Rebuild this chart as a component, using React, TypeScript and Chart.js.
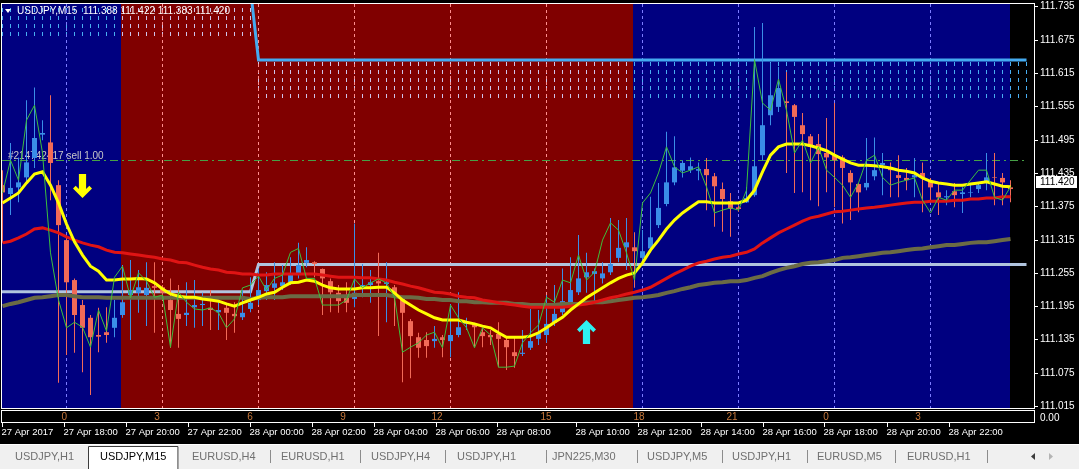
import React, { useEffect, useRef } from "react";
import { Chart, registerables } from "chart.js";

Chart.register(...registerables);

// ---------------- data (USDJPY, M15) ----------------
const openP = [
  111.414, 111.398, 111.410, 111.428, 111.463, 111.505, 111.491, 111.414, 111.315, 111.243,
  111.198, 111.175, 111.144, 111.149, 111.157, 111.180, 111.216, 111.220, 111.216, 111.232,
  111.230, 111.207, 111.182, 111.180, 111.194, 111.198, 111.193, 111.185, 111.193, 111.182,
  111.176, 111.191, 111.207, 111.223, 111.229, 111.232, 111.239, 111.252, 111.274, 111.275,
  111.263, 111.241, 111.220, 111.212, 111.209, 111.230, 111.234, 111.241, 111.236, 111.230,
  111.212, 111.169, 111.140, 111.135, 111.133, 111.140, 111.133, 111.144, 111.164, 111.162,
  111.149, 111.144, 111.146, 111.135, 111.113, 111.110, 111.121, 111.137, 111.144, 111.166,
  111.185, 111.203, 111.221, 111.248, 111.254, 111.246, 111.257, 111.283, 111.302, 111.302,
  111.283, 111.300, 111.342, 111.380, 111.419, 111.440, 111.441, 111.440, 111.443, 111.430,
  111.407, 111.385, 111.374, 111.383, 111.396, 111.468, 111.540, 111.555, 111.565, 111.558,
  111.522, 111.502, 111.488, 111.472, 111.468, 111.464, 111.436, 111.416, 111.410, 111.430,
  111.450, 111.445, 111.432, 111.427, 111.428, 111.436, 111.421, 111.401, 111.392, 111.403,
  111.398, 111.400, 111.407, 111.419, 111.428, 111.427, 111.410,
];
const highP = [
  111.441, 111.490, 111.464, 111.567, 111.590, 111.531, 111.576, 111.423, 111.324, 111.246,
  111.207, 111.180, 111.193, 111.194, 111.207, 111.270, 111.279, 111.261, 111.275, 111.275,
  111.234, 111.246, 111.234, 111.239, 111.243, 111.220, 111.225, 111.207, 111.198, 111.203,
  111.225, 111.248, 111.264, 111.257, 111.275, 111.270, 111.284, 111.310, 111.302, 111.277,
  111.264, 111.246, 111.234, 111.239, 111.345, 111.272, 111.261, 111.292, 111.275, 111.234,
  111.214, 111.173, 111.148, 111.149, 111.160, 111.144, 111.200, 111.221, 111.175, 111.166,
  111.160, 111.153, 111.167, 111.139, 111.139, 111.153, 111.191, 111.189, 111.216, 111.234,
  111.264, 111.284, 111.324, 111.292, 111.264, 111.275, 111.355, 111.351, 111.355, 111.329,
  111.333, 111.393, 111.418, 111.510, 111.502, 111.459, 111.464, 111.455, 111.463, 111.436,
  111.419, 111.400, 111.378, 111.410, 111.699, 111.706, 111.634, 111.627, 111.618, 111.560,
  111.544, 111.506, 111.506, 111.535, 111.562, 111.468, 111.441, 111.418, 111.499, 111.500,
  111.472, 111.455, 111.468, 111.445, 111.463, 111.455, 111.427, 111.419, 111.405, 111.418,
  111.410, 111.418, 111.418, 111.472, 111.472, 111.436, 111.423,
];
const lowP = [
  111.310, 111.360, 111.383, 111.419, 111.445, 111.495, 111.387, 111.058, 111.108, 111.112,
  111.077, 111.036, 111.113, 111.130, 111.140, 111.175, 111.135, 111.184, 111.160, 111.148,
  111.207, 111.121, 111.121, 111.160, 111.157, 111.160, 111.153, 111.153, 111.135, 111.148,
  111.171, 111.185, 111.198, 111.207, 111.207, 111.225, 111.234, 111.246, 111.266, 111.248,
  111.180, 111.185, 111.184, 111.185, 111.194, 111.212, 111.202, 111.142, 111.167, 111.160,
  111.059, 111.066, 111.103, 111.103, 111.121, 111.104, 111.104, 111.140, 111.153, 111.122,
  111.122, 111.126, 111.086, 111.081, 111.085, 111.106, 111.117, 111.126, 111.130, 111.160,
  111.180, 111.198, 111.216, 111.220, 111.202, 111.237, 111.252, 111.275, 111.261, 111.229,
  111.275, 111.293, 111.337, 111.376, 111.414, 111.428, 111.436, 111.423, 111.369, 111.339,
  111.330, 111.321, 111.366, 111.382, 111.393, 111.459, 111.522, 111.546, 111.436, 111.400,
  111.401, 111.387, 111.376, 111.401, 111.374, 111.345, 111.351, 111.365, 111.405, 111.423,
  111.396, 111.392, 111.392, 111.405, 111.392, 111.365, 111.387, 111.360, 111.378, 111.374,
  111.364, 111.392, 111.400, 111.405, 111.378, 111.378, 111.383,
];
const closeP = [
  111.401, 111.409, 111.419, 111.455, 111.499, 111.508, 111.454, 111.342, 111.239, 111.180,
  111.157, 111.140, 111.141, 111.144, 111.175, 111.203, 111.225, 111.230, 111.229, 111.229,
  111.220, 111.189, 111.173, 111.184, 111.198, 111.200, 111.189, 111.189, 111.184, 111.178,
  111.184, 111.202, 111.225, 111.234, 111.237, 111.239, 111.252, 111.270, 111.279, 111.272,
  111.246, 111.221, 111.205, 111.202, 111.220, 111.234, 111.239, 111.237, 111.239, 111.216,
  111.184, 111.142, 111.121, 111.124, 111.137, 111.135, 111.144, 111.158, 111.167, 111.158,
  111.142, 111.140, 111.137, 111.122, 111.106, 111.112, 111.133, 111.148, 111.164, 111.182,
  111.205, 111.225, 111.246, 111.257, 111.259, 111.255, 111.272, 111.301, 111.311, 111.295,
  111.295, 111.320, 111.373, 111.419, 111.446, 111.454, 111.448, 111.443, 111.432, 111.412,
  111.389, 111.371, 111.371, 111.391, 111.448, 111.522, 111.576, 111.589, 111.562, 111.537,
  111.506, 111.483, 111.470, 111.464, 111.459, 111.445, 111.419, 111.401, 111.418, 111.441,
  111.454, 111.441, 111.427, 111.423, 111.432, 111.428, 111.410, 111.392, 111.394, 111.396,
  111.401, 111.401, 111.414, 111.428, 111.427, 111.419, 111.407,
];
// thin green line
const fastLine = [
  111.400, 111.459, 111.423, 111.531, 111.558, 111.472, 111.292, 111.207, 111.157, 111.167,
  111.158, 111.122, 111.189, 111.151, 111.248, 111.268, 111.211, 111.256, 111.241, 111.212,
  111.216, 111.122, 111.221, 111.203, 111.191, 111.189, 111.193, 111.184, 111.157, 111.173,
  111.229, 111.234, 111.250, 111.225, 111.246, 111.252, 111.293, 111.300, 111.246, 111.246,
  111.198, 111.198, 111.198, 111.207, 111.245, 111.229, 111.238, 111.245, 111.238, 111.212,
  111.113, 111.122, 111.130, 111.144, 111.149, 111.121, 111.198, 111.175, 111.157, 111.121,
  111.157, 111.144, 111.086, 111.086, 111.088, 111.130, 111.148, 111.162, 111.212, 111.203,
  111.243, 111.238, 111.288, 111.243, 111.257, 111.315, 111.346, 111.333, 111.292, 111.243,
  111.382, 111.400, 111.436, 111.483, 111.447, 111.436, 111.441, 111.447, 111.411, 111.364,
  111.369, 111.373, 111.369, 111.405, 111.640, 111.562, 111.549, 111.605, 111.549, 111.472,
  111.495, 111.454, 111.483, 111.441, 111.428, 111.414, 111.392, 111.418, 111.459, 111.468,
  111.428, 111.414, 111.419, 111.423, 111.427, 111.387, 111.364, 111.392, 111.387, 111.405,
  111.405, 111.423, 111.441, 111.441, 111.392, 111.387, 111.411,
];
// yellow moving average
const maYellow = [
  111.382, 111.391, 111.400, 111.418, 111.434, 111.438, 111.414, 111.382, 111.344, 111.312,
  111.288, 111.268, 111.259, 111.243, 111.243, 111.245, 111.245, 111.246, 111.245, 111.238,
  111.227, 111.218, 111.214, 111.212, 111.212, 111.209, 111.207, 111.205, 111.200, 111.196,
  111.202, 111.207, 111.212, 111.218, 111.221, 111.230, 111.238, 111.239, 111.243, 111.241,
  111.234, 111.229, 111.227, 111.227, 111.227, 111.229, 111.229, 111.230, 111.230, 111.220,
  111.207, 111.198, 111.189, 111.182, 111.175, 111.171, 111.171, 111.171, 111.167, 111.164,
  111.160, 111.157, 111.148, 111.140, 111.140, 111.140, 111.142, 111.148, 111.157, 111.167,
  111.176, 111.189, 111.200, 111.211, 111.220, 111.229, 111.238, 111.246, 111.252, 111.256,
  111.274, 111.297, 111.315, 111.335, 111.351, 111.364, 111.374, 111.384, 111.384, 111.382,
  111.382, 111.382, 111.382, 111.387, 111.405, 111.438, 111.468, 111.483, 111.488, 111.488,
  111.488, 111.485, 111.481, 111.476, 111.468, 111.461, 111.454, 111.450, 111.450, 111.449,
  111.447, 111.445, 111.441, 111.439, 111.436, 111.427, 111.421, 111.418, 111.416, 111.414,
  111.414, 111.416, 111.418, 111.420, 111.416, 111.412, 111.411,
];
// red moving average
const maRed = [
  111.310, 111.313, 111.319, 111.326, 111.335, 111.337, 111.333, 111.328, 111.321, 111.315,
  111.310, 111.306, 111.303, 111.297, 111.293, 111.292, 111.290, 111.288, 111.286, 111.284,
  111.281, 111.279, 111.275, 111.274, 111.270, 111.266, 111.263, 111.261, 111.257, 111.256,
  111.254, 111.254, 111.252, 111.252, 111.254, 111.254, 111.254, 111.254, 111.254, 111.254,
  111.252, 111.250, 111.248, 111.248, 111.248, 111.247, 111.247, 111.245, 111.243, 111.239,
  111.236, 111.232, 111.229, 111.225, 111.221, 111.220, 111.218, 111.214, 111.212, 111.211,
  111.207, 111.205, 111.202, 111.200, 111.198, 111.196, 111.194, 111.194, 111.194, 111.194,
  111.194, 111.196, 111.198, 111.200, 111.203, 111.207, 111.211, 111.214, 111.218, 111.221,
  111.225, 111.230, 111.238, 111.246, 111.254, 111.261, 111.268, 111.274, 111.277, 111.281,
  111.284, 111.286, 111.290, 111.293, 111.299, 111.310, 111.319, 111.328, 111.335, 111.342,
  111.349, 111.355, 111.358, 111.362, 111.366, 111.367, 111.369, 111.371, 111.373, 111.374,
  111.376, 111.378, 111.380, 111.382, 111.383, 111.383, 111.385, 111.385, 111.385, 111.387,
  111.387, 111.389, 111.389, 111.391, 111.391, 111.393, 111.393,
];
// olive (slow) moving average
const maOlive = [
  111.196, 111.200, 111.203, 111.207, 111.211, 111.212, 111.214, 111.216, 111.216, 111.214,
  111.212, 111.212, 111.212, 111.211, 111.211, 111.211, 111.211, 111.211, 111.211, 111.211,
  111.211, 111.211, 111.211, 111.211, 111.211, 111.211, 111.211, 111.211, 111.211, 111.211,
  111.211, 111.209, 111.211, 111.212, 111.212, 111.212, 111.214, 111.214, 111.214, 111.214,
  111.214, 111.214, 111.214, 111.214, 111.216, 111.216, 111.216, 111.216, 111.216, 111.214,
  111.212, 111.212, 111.211, 111.209, 111.209, 111.207, 111.207, 111.205, 111.205, 111.203,
  111.203, 111.202, 111.202, 111.202, 111.200, 111.200, 111.198, 111.198, 111.198, 111.198,
  111.200, 111.200, 111.200, 111.202, 111.203, 111.203, 111.205, 111.207, 111.209, 111.211,
  111.212, 111.214, 111.216, 111.220, 111.223, 111.227, 111.230, 111.234, 111.236, 111.238,
  111.239, 111.241, 111.241, 111.243, 111.247, 111.250, 111.256, 111.261, 111.265, 111.268,
  111.272, 111.274, 111.275, 111.277, 111.279, 111.283, 111.284, 111.286, 111.288, 111.290,
  111.292, 111.293, 111.295, 111.297, 111.299, 111.300, 111.302, 111.304, 111.306, 111.306,
  111.308, 111.310, 111.311, 111.311, 111.313, 111.315, 111.317,
];

// horizontal levels (bar index, price)
const supportX = [-1, 31, 32, 128];
const supportY = [111.222, 111.222, 111.271, 111.271];
const resistX = [31, 32, 128];
const resistY = [111.766, 111.6395, 111.6395];
const tradePrice = 111.458;
const tradeEnd = 128;
const tradeLabel = "#214742417 sell 1.00";

// dotted zones
const zoneFrom = [0, 32];
const zoneTo = [31, 128];
const zoneHigh = [111.733, 111.636];
const zoneLow = [111.679, 111.567];

// trading sessions (bar index ranges)
const sessionStart = [-1, 14.8, 78.8];
const sessionEnd = [14.8, 78.8, 125.95];
const sessionIsRed = [false, true, false];

// signal arrows
const arrowBar = [10, 73];
const arrowPrice = [111.391, 111.171];
const arrowUp = [false, true];

// axes
const gridAt = [8, 20, 32, 44, 56, 68, 80, 92, 104, 116];
const priceTicks = [111.735, 111.675, 111.615, 111.555, 111.495, 111.435, 111.375, 111.315, 111.255, 111.195, 111.135, 111.075, 111.015];
const hourLabels = ["0", "3", "6", "9", "12", "15", "18", "21", "0", "3"];
const hourAt = [7.73, 19.31, 30.94, 42.56, 54.31, 67.94, 79.56, 91.19, 102.94, 114.44];
const dateLabels = [
  "27 Apr 2017", "27 Apr 18:00", "27 Apr 20:00", "27 Apr 22:00", "28 Apr 00:00", "28 Apr 02:00",
  "28 Apr 04:00", "28 Apr 06:00", "28 Apr 08:00", "28 Apr 10:00", "28 Apr 12:00", "28 Apr 14:00",
  "28 Apr 16:00", "28 Apr 18:00", "28 Apr 20:00", "28 Apr 22:00",
];
const dateAt = [0, 7.73, 15.44, 23.19, 30.94, 38.69, 46.44, 54.19, 61.9, 71.81, 79.56, 87.35, 95.1, 102.81, 110.6, 118.35];
const lastPrice = 111.42;
const headerText = "USDJPY,M15  111.388 111.422 111.383 111.420";
const tabs = ["USDJPY,H1", "USDJPY,M15", "EURUSD,H4", "EURUSD,H1", "USDJPY,H4", "USDJPY,H1", "JPN225,M30", "USDJPY,M5", "USDJPY,H1", "EURUSD,M5", "EURUSD,H1"];
const activeTab = 1;

// ---------------- styles ----------------
const W = 1079;
const H = 469;
const BULL = "#3a8ee8";
const BEAR = "#f26a58";
const BLUE_BG = "#000080";
const RED_BG = "#800000";
const FONT = "Liberation Sans, Arial, sans-serif";
const TAB_X = [15, 100, 192, 281, 371, 457, 552, 647, 732, 817, 907];
const TAB_SEP = [270, 360, 445, 546, 637, 722, 807, 895, 987];

const idx = openP.map((_, i) => i);
const upBar = idx.map((i) => closeP[i] >= openP[i]);
const candleColor = upBar.map((u) => (u ? BULL : BEAR));
const pts = (arr: number[]) => idx.map((i) => ({ x: i, y: arr[i] }));

function inRed(k: number) {
  for (let i = 0; i < sessionStart.length; i++) {
    if (k >= sessionStart[i] && k < sessionEnd[i]) return sessionIsRed[i];
  }
  return false;
}

function drawArrow(ctx: CanvasRenderingContext2D, tx: number, ty: number, up: boolean, color: string) {
  const s = up ? -1 : 1;
  const p = [
    [0, 0], [9.5, -9.5], [6.8, -12.2], [3.6, -9], [3.6, -24], [-3.6, -24], [-3.6, -9], [-6.8, -12.2], [-9.5, -9.5],
  ];
  ctx.beginPath();
  p.forEach(([dx, dy], i) => {
    const px = tx + dx;
    const py = ty + dy * s;
    if (i === 0) ctx.moveTo(px, py);
    else ctx.lineTo(px, py);
  });
  ctx.closePath();
  ctx.fillStyle = color;
  ctx.fill();
}

const decor = {
  id: "mt4decor",
  beforeDraw(chart: any) {
    const { ctx, chartArea: a } = chart;
    const xs = chart.scales.x;
    const ys = chart.scales.y;
    ctx.save();
    ctx.fillStyle = "#000";
    ctx.fillRect(0, 0, W, H);
    // session bands
    sessionStart.forEach((s, i) => {
      const x0 = Math.max(a.left, Math.round(xs.getPixelForValue(s)));
      const x1 = Math.min(a.right, Math.round(xs.getPixelForValue(sessionEnd[i])));
      ctx.fillStyle = sessionIsRed[i] ? RED_BG : BLUE_BG;
      ctx.fillRect(x0, a.top, x1 - x0, a.bottom - a.top);
    });
    // dotted zones
    ctx.lineWidth = 1;
    ctx.setLineDash([4, 4]);
    zoneFrom.forEach((f, z) => {
      const yt = Math.round(ys.getPixelForValue(zoneHigh[z]));
      const yb = Math.round(ys.getPixelForValue(zoneLow[z]));
      for (let k = f; k <= zoneTo[z]; k++) {
        const px = Math.floor(xs.getPixelForValue(k)) + 0.5;
        ctx.strokeStyle = inRed(k) ? "#cfc4ea" : "#48aef2";
        ctx.beginPath();
        ctx.moveTo(px, yt);
        ctx.lineTo(px, yb);
        ctx.stroke();
      }
    });
    // vertical grid
    ctx.setLineDash([3, 3]);
    gridAt.forEach((g) => {
      const px = Math.floor(xs.getPixelForValue(g)) + 0.5;
      ctx.strokeStyle = inRed(g) ? "#ff8e8e" : "#7c7cff";
      ctx.beginPath();
      ctx.moveTo(px, a.top);
      ctx.lineTo(px, a.bottom);
      ctx.stroke();
    });
    // trade line
    const ty = Math.floor(ys.getPixelForValue(tradePrice)) + 0.5;
    ctx.setLineDash([8, 4, 2, 4]);
    ctx.strokeStyle = "#46a046";
    ctx.beginPath();
    ctx.moveTo(a.left, ty);
    ctx.lineTo(xs.getPixelForValue(tradeEnd), ty);
    ctx.stroke();
    ctx.setLineDash([]);
    ctx.fillStyle = "#c8c8c8";
    ctx.font = "10px " + FONT;
    ctx.textAlign = "left";
    ctx.textBaseline = "alphabetic";
    ctx.fillText(tradeLabel, 8, ty - 2);
    ctx.restore();
  },
  afterDraw(chart: any) {
    const { ctx, chartArea: a } = chart;
    const xs = chart.scales.x;
    const ys = chart.scales.y;
    ctx.save();
    // arrows
    arrowBar.forEach((b, i) => {
      drawArrow(ctx, xs.getPixelForValue(b), ys.getPixelForValue(arrowPrice[i]), arrowUp[i], arrowUp[i] ? "#2ff0f0" : "#ffff00");
    });
    // header
    ctx.fillStyle = "#ffffff";
    ctx.beginPath();
    ctx.moveTo(5, 9);
    ctx.lineTo(11, 9);
    ctx.lineTo(8, 13);
    ctx.closePath();
    ctx.fill();
    ctx.font = "10px " + FONT;
    ctx.textBaseline = "middle";
    ctx.textAlign = "left";
    ctx.fillText(headerText, 17, 11);
    // main frame
    ctx.strokeStyle = "#ffffff";
    ctx.lineWidth = 1;
    ctx.strokeRect(1.5, 3.5, a.right - 1, a.bottom - 3);
    // price axis
    ctx.font = "10px " + FONT;
    priceTicks.forEach((p) => {
      const py = Math.floor(ys.getPixelForValue(p)) + 0.5;
      ctx.beginPath();
      ctx.moveTo(a.right + 1, py);
      ctx.lineTo(a.right + 4, py);
      ctx.stroke();
      ctx.fillStyle = "#ffffff";
      ctx.fillText(p.toFixed(3), a.right + 6, py);
    });
    // current price box
    const cy = Math.round(ys.getPixelForValue(lastPrice));
    ctx.fillStyle = "#ffffff";
    ctx.fillRect(a.right + 2, cy - 6, 41, 12);
    ctx.fillStyle = "#000000";
    ctx.fillText(lastPrice.toFixed(3), a.right + 6, cy);
    // hour strip
    ctx.strokeStyle = "#ffffff";
    ctx.strokeRect(1.5, 410.5, a.right - 1, 12);
    ctx.textAlign = "center";
    ctx.fillStyle = "#c8783c";
    hourLabels.forEach((h, i) => ctx.fillText(h, xs.getPixelForValue(hourAt[i]), 417));
    ctx.textAlign = "left";
    ctx.fillStyle = "#ffffff";
    ctx.fillText("0.00", a.right + 6, 418);
    // date axis
    ctx.font = "9.5px " + FONT;
    dateLabels.forEach((d, i) => {
      const px = Math.floor(xs.getPixelForValue(dateAt[i])) + 0.5;
      ctx.beginPath();
      ctx.moveTo(px, 423);
      ctx.lineTo(px, 427);
      ctx.stroke();
      ctx.fillText(d, px - 1, 432);
    });
    // tab bar
    ctx.fillStyle = "#f0f0f0";
    ctx.fillRect(0, 444, W, H - 444);
    ctx.fillStyle = "#ffffff";
    ctx.fillRect(0, 444, W, 1);
    ctx.font = "11px " + FONT;
    tabs.forEach((t, i) => {
      const tw = ctx.measureText(t).width;
      if (i === activeTab) {
        ctx.fillStyle = "#ffffff";
        ctx.fillRect(TAB_X[i] - 12, 446, tw + 24, H - 446);
        ctx.strokeStyle = "#3c3c3c";
        ctx.beginPath();
        ctx.moveTo(TAB_X[i] - 11.5, H);
        ctx.lineTo(TAB_X[i] - 11.5, 446.5);
        ctx.lineTo(TAB_X[i] + tw + 11.5, 446.5);
        ctx.lineTo(TAB_X[i] + tw + 11.5, H);
        ctx.stroke();
        ctx.fillStyle = "#000000";
      } else {
        ctx.fillStyle = "#707070";
      }
      ctx.fillText(t, TAB_X[i], 457);
    });
    ctx.strokeStyle = "#8c8c8c";
    TAB_SEP.forEach((sx) => {
      ctx.beginPath();
      ctx.moveTo(sx + 0.5, 450);
      ctx.lineTo(sx + 0.5, 463);
      ctx.stroke();
    });
    ctx.fillStyle = "#3c3c3c";
    ctx.beginPath();
    ctx.moveTo(1031, 456.5);
    ctx.lineTo(1035, 453);
    ctx.lineTo(1035, 460);
    ctx.closePath();
    ctx.fill();
    ctx.fillStyle = "#b4b4b4";
    ctx.beginPath();
    ctx.moveTo(1053, 456.5);
    ctx.lineTo(1049, 453);
    ctx.lineTo(1049, 460);
    ctx.closePath();
    ctx.fill();
    ctx.restore();
  },
};

export default function App() {
  const ref = useRef<HTMLCanvasElement>(null);
  useEffect(() => {
    const canvas = ref.current;
    if (!canvas) return;
    const lineDs = (label: string, data: any[], color: string, width: number, order: number) => ({
      type: "line" as const,
      label,
      data,
      borderColor: color,
      borderWidth: width,
      pointRadius: 0,
      tension: 0,
      fill: false,
      order,
    });
    const chart = new Chart(canvas, {
      type: "bar",
      data: {
        datasets: [
          lineDs("fast", pts(fastLine), "#3cc03c", 1, 0),
          lineDs("ma yellow", pts(maYellow), "#ffff00", 3, 1),
          lineDs("ma red", pts(maRed), "#e01414", 3, 2),
          lineDs("ma olive", pts(maOlive), "#6b6b45", 4, 3),
          {
            type: "bar" as const,
            label: "body",
            data: idx.map((i) => ({ x: i, y: [openP[i], closeP[i]] })) as any,
            backgroundColor: candleColor,
            barThickness: 5,
            grouped: false,
            borderWidth: 0,
            inflateAmount: 0,
            order: 4,
          } as any,
          {
            type: "bar" as const,
            label: "wick",
            data: idx.map((i) => ({ x: i, y: [lowP[i], highP[i]] })) as any,
            backgroundColor: candleColor,
            barThickness: 1,
            grouped: false,
            borderWidth: 0,
            inflateAmount: 0,
            order: 5,
          } as any,
          lineDs("support", supportX.map((x, i) => ({ x, y: supportY[i] })), "#b0c4de", 3, 6),
          lineDs("resistance", resistX.map((x, i) => ({ x, y: resistY[i] })), "#44aaf0", 3, 7),
        ],
      },
      options: {
        animation: false,
        responsive: false,
        events: [],
        layout: { padding: { left: 2, right: 45, top: 4, bottom: 61 } },
        plugins: { legend: { display: false }, tooltip: { enabled: false } },
        scales: {
          x: { type: "linear", display: false, offset: false, min: -0.0625, max: 128.9375 },
          y: { type: "linear", display: false, min: 111.012477, max: 111.740405 },
        },
      } as any,
      plugins: [decor],
    });
    return () => chart.destroy();
  }, []);
  return (
    <div style={{ position: "absolute", left: 0, top: 0, width: W, height: H, background: "#000" }}>
      <canvas ref={ref} width={W} height={H} style={{ display: "block", width: W, height: H }} />
    </div>
  );
}
